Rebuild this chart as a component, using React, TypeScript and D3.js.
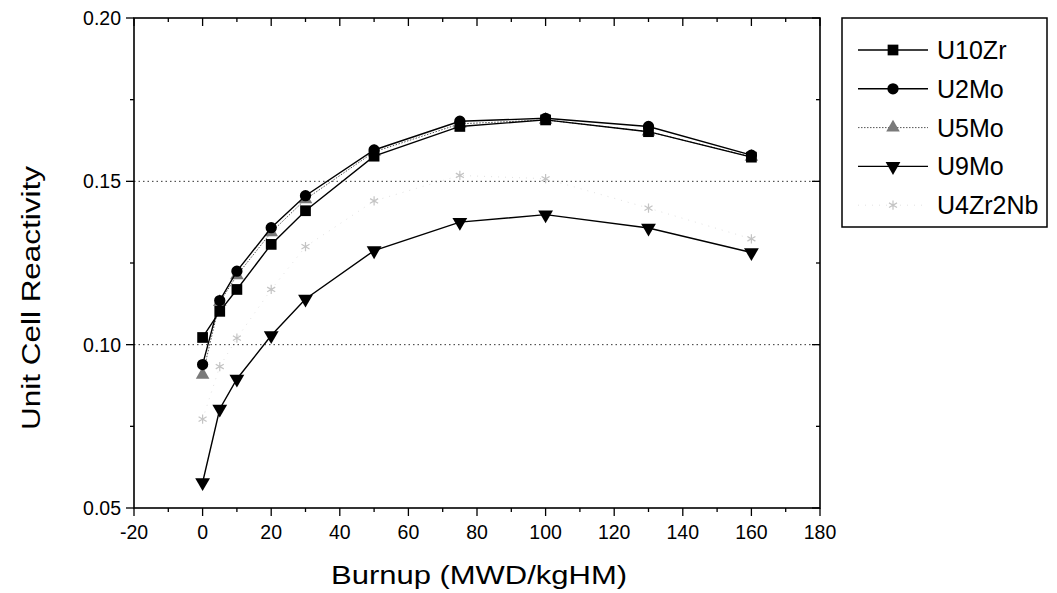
import React from "react";
import * as d3 from "d3";

const burnup = [0, 5, 10, 20, 30, 50, 75, 100, 130, 160];
const u10zr = [0.1022, 0.1102, 0.1169, 0.1307, 0.1410, 0.1577, 0.1668, 0.1688, 0.1652, 0.1574];
const u2mo = [0.0939, 0.1135, 0.1225, 0.1358, 0.1456, 0.1596, 0.1684, 0.1693, 0.1668, 0.1580];
const u5mo = [0.0908, 0.1130, 0.1212, 0.1344, 0.1445, 0.1590, 0.1676, 0.1688, 0.1652, 0.1575];
const u9mo = [0.0578, 0.0803, 0.0895, 0.1028, 0.1140, 0.1288, 0.1375, 0.1398, 0.1357, 0.1282];
const u4zr2nb = [0.0772, 0.0933, 0.1020, 0.1169, 0.1300, 0.1440, 0.1518, 0.1508, 0.1418, 0.1324];

const xTicks = [-20, 0, 20, 40, 60, 80, 100, 120, 140, 160, 180];
const yTicks = [0.05, 0.1, 0.15, 0.2];
const gridValues = [0.1, 0.15];

const W = 1057, H = 593;
const L = 134, R = 820, T = 18, B = 508;
const FONT = "'Liberation Sans', Arial, Helvetica, sans-serif";

type Series = {
  name: string;
  values: number[];
  symbol: d3.SymbolType;
  size: number;
  rotate: number;
  fill: string;
  stroke: string;
  lineColor: string;
  dash: string;
  lineWidth: number;
};

const series: Series[] = [
  { name: "U4Zr2Nb", values: u4zr2nb, symbol: d3.symbolAsterisk, size: 60, rotate: 0, fill: "none", stroke: "#c4c4c4", lineColor: "#e2e2e2", dash: "1 6", lineWidth: 1 },
  { name: "U9Mo", values: u9mo, symbol: d3.symbolTriangle, size: 95, rotate: 180, fill: "#000", stroke: "none", lineColor: "#000", dash: "", lineWidth: 1.4 },
  { name: "U5Mo", values: u5mo, symbol: d3.symbolTriangle, size: 80, rotate: 0, fill: "#7a7a7a", stroke: "none", lineColor: "#555", dash: "1.5 1.5", lineWidth: 1 },
  { name: "U2Mo", values: u2mo, symbol: d3.symbolCircle, size: 100, rotate: 0, fill: "#000", stroke: "none", lineColor: "#000", dash: "", lineWidth: 1.4 },
  { name: "U10Zr", values: u10zr, symbol: d3.symbolSquare, size: 115, rotate: 0, fill: "#000", stroke: "none", lineColor: "#000", dash: "", lineWidth: 1.4 },
];

const legendOrder = ["U10Zr", "U2Mo", "U5Mo", "U9Mo", "U4Zr2Nb"];

export default function App() {
  const x = d3.scaleLinear().domain([-20, 180]).range([L, R]);
  const y = d3.scaleLinear().domain([0.05, 0.2]).range([B, T]);
  const xMinor = d3.range(-20, 181, 10);
  const yMinor = d3.range(0, 7).map((i) => 0.05 + i * 0.025);

  const line = (vals: number[]) =>
    d3.line<number>().x((_, i) => x(burnup[i])).y((v) => y(v))(vals) || "";

  const sym = (s: Series) => d3.symbol().type(s.symbol).size(s.size)() || "";

  const marker = (s: Series, cx: number, cy: number, key: string) => (
    <path
      key={key}
      d={sym(s)}
      transform={`translate(${cx},${cy}) rotate(${s.rotate})`}
      fill={s.fill}
      stroke={s.stroke}
      strokeWidth={s.stroke === "none" ? 0 : 1.2}
    />
  );

  return (
    <svg width={W} height={H} style={{ position: "absolute", left: 0, top: 0 }} fontFamily={FONT}>
      <rect x={0} y={0} width={W} height={H} fill="#fff" />
      {gridValues.map((g) => (
        <line key={g} x1={L} x2={R} y1={y(g)} y2={y(g)} stroke="#333" strokeWidth={1} strokeDasharray="1.5 3" />
      ))}
      {series.map((s) => (
        <g key={s.name}>
          <path d={line(s.values)} fill="none" stroke={s.lineColor} strokeWidth={s.lineWidth} strokeDasharray={s.dash} />
          {s.values.map((v, i) => marker(s, x(burnup[i]), y(v), s.name + i))}
        </g>
      ))}
      <rect x={L} y={T} width={R - L} height={B - T} fill="none" stroke="#000" strokeWidth={1.6} />
      {xMinor.map((t) => {
        const major = t % 20 === 0;
        const len = major ? 8 : 4;
        return (
          <g key={"xt" + t}>
            <line x1={x(t)} x2={x(t)} y1={B} y2={B + len} stroke="#000" strokeWidth={1.3} />
            <line x1={x(t)} x2={x(t)} y1={T} y2={T + len} stroke="#000" strokeWidth={1.3} />
          </g>
        );
      })}
      {xTicks.map((t) => (
        <text key={"xl" + t} x={x(t)} y={B + 31} fontSize={19.5} textAnchor="middle">
          {t}
        </text>
      ))}
      {yMinor.map((t, i) => {
        const major = i % 2 === 0;
        const len = major ? 8 : 4;
        return (
          <g key={"yt" + i}>
            <line x1={L - len} x2={L} y1={y(t)} y2={y(t)} stroke="#000" strokeWidth={1.3} />
            <line x1={R - len} x2={R} y1={y(t)} y2={y(t)} stroke="#000" strokeWidth={1.3} />
          </g>
        );
      })}
      {yTicks.map((t) => (
        <text key={"yl" + t} x={L - 13} y={y(t) + 7} fontSize={19.5} textAnchor="end">
          {d3.format(".2f")(t)}
        </text>
      ))}
      <text x={(L + R) / 2 + 2} y={584} fontSize={25} textAnchor="middle" textLength={296} lengthAdjust="spacingAndGlyphs">
        Burnup (MWD/kgHM)
      </text>
      <text
        transform={`translate(40,${(T + B) / 2 + 35}) rotate(-90)`}
        fontSize={25}
        textAnchor="middle"
        textLength={264}
        lengthAdjust="spacingAndGlyphs"
      >
        Unit Cell Reactivity
      </text>
      <rect x={842} y={18} width={205} height={209} fill="#fff" stroke="#000" strokeWidth={1.5} />
      {legendOrder.map((name, i) => {
        const s = series.find((d) => d.name === name)!;
        const ly = 50 + i * 38.8;
        return (
          <g key={"lg" + name}>
            <line x1={858} x2={928} y1={ly} y2={ly} stroke={s.lineColor} strokeWidth={s.lineWidth} strokeDasharray={s.dash} />
            {marker(s, 893, ly, "lm" + name)}
            <text x={937} y={ly + 9} fontSize={25}>
              {name}
            </text>
          </g>
        );
      })}
    </svg>
  );
}
